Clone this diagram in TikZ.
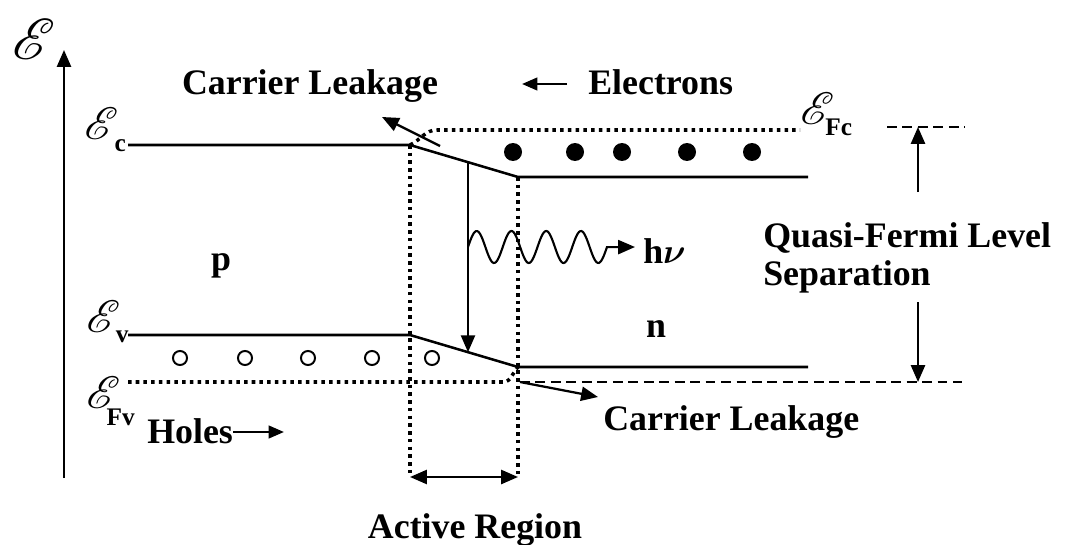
\documentclass[tikz,border=0pt]{standalone}
\usepackage{fontspec}
\setmainfont{Liberation Serif}
\usepackage{amsmath}
\usepackage{mathrsfs}
\usepackage{graphicx}
\usetikzlibrary{arrows.meta,calc}

% script E with a lowered bold subscript (#3 = kern before it)
\newcommand{\elev}[3]{\scalebox{1.3}{$\mathscr{E}$}\kern#3\raisebox{#2}{\fontsize{18}{20}\selectfont #1}}

\begin{document}
\begin{tikzpicture}[
    x=0.025cm,y=-0.025cm,>=Triangle,
    band/.style={line width=1.8pt},
    fermi/.style={line width=2.5pt,dash pattern=on 2.5pt off 3pt},
    guide/.style={line width=1.3pt,dash pattern=on 7pt off 4pt},
    arr/.style={-{Triangle[length=12pt,width=10pt]},line width=1.6pt},
    smallarr/.style={-{Triangle[length=11pt,width=9pt]},line width=1.8pt},
    labelnode/.style={font=\fontsize{25.5}{27}\selectfont\bfseries,inner sep=0pt},
    electron/.style={fill=black},
    hole/.style={draw=black,line width=1.4pt}
  ]
    \useasboundingbox (0,0) rectangle (1073,545);

    % energy axis
    \coordinate (ax0) at (64,478);
    \coordinate (ax1) at (64,50);
    \draw[arr] (ax0) -- (ax1);
    \node[labelnode,anchor=base west] (Eaxis) at (12,60) {\scalebox{1.65}{$\mathscr{E}$}};

    % conduction and valence band edges
    \coordinate (cL) at (128,145);
    \coordinate (cA) at (410,145);
    \coordinate (cB) at (518,177);
    \coordinate (cR) at (808,177);
    \coordinate (vL) at (128,335);
    \coordinate (vA) at (410,335);
    \coordinate (vB) at (518,367);
    \coordinate (vR) at (808,367);
    \draw[band] (cL) -- (cA) -- (cB) -- (cR);
    \draw[band] (vL) -- (vA) -- (vB) -- (vR);
    \node[labelnode,anchor=base west] (Ec) at (84,140) {\elev{c}{-0.33em}{-0.1em}};
    \node[labelnode,anchor=base west] (Ev) at (86,332) {\elev{v}{-0.3em}{-0.12em}};

    % quasi-Fermi levels
    \coordinate (fcL) at (437,130);
    \coordinate (fcR) at (800,130);
    \coordinate (fvL) at (128,382);
    \coordinate (fvA) at (503,382);
    \draw[fermi] (cA) to[out=25,in=180] (fcL) -- (fcR);
    \draw[fermi] (fvL) -- (fvA) to[out=0,in=225] (vB);
    \node[labelnode,anchor=base west] (EFc) at (800,125) {\elev{Fc}{-0.28em}{-0.25em}};
    \node[labelnode,anchor=base west] (EFv) at (86,408) {\elev{Fv}{-0.5em}{-0.38em}};

    % active region
    \coordinate (aL) at (410,477);
    \coordinate (aR) at (518,477);
    \draw[fermi] (cA) -- (aL);
    \draw[fermi] (cB) -- (aR);
    \draw[{Triangle[length=12pt,width=10pt]}-{Triangle[length=12pt,width=10pt]},line width=1.6pt]
      (aL) -- (aR);
    \node[labelnode,anchor=base] (act) at (475,538) {Active Region};

    % electrons and holes
    \foreach \x in {513,575,622,687,752}
      \fill[electron] (\x,152) circle (6.4pt);
    \foreach \x in {180,245,308,372,432}
      \draw[hole] (\x,358) circle (5pt);
    \node[labelnode,anchor=base] (pside) at (221,270) {p};
    \node[labelnode,anchor=base] (nside) at (656,337) {n};

    % recombination and photon
    \coordinate (tTop) at ($(cA)!0.537!(cB)$);
    \coordinate (tBot) at ($(vA)!0.537!(vB)$);
    \draw[arr] (tTop) -- (tBot);
    \coordinate (wTip) at (635,247);
    \draw[arr,line width=1.5pt] plot[domain=0:4,samples=120,smooth]
      ({468+34.75*\x},{247-16*sin(360*\x)}) -- (wTip);
    \node[labelnode,anchor=base west] (hv) at (643,263) {h$\boldsymbol{\nu}$};

    % carrier flow and leakage
    \coordinate (elA) at (567,84);
    \coordinate (elB) at (522,84);
    \draw[smallarr] (elA) -- (elB);
    \node[labelnode,anchor=base west] (elec) at (588,95) {Electrons};
    \node[labelnode,anchor=base west] (holes) at (147,443) {Holes};
    \coordinate (hoB) at (284,432);
    \draw[smallarr] (holes.east |- hoB) -- (hoB);
    \coordinate (lkU0) at (440,146);
    \coordinate (lkU1) at (382,117);
    \draw[arr] (lkU0) -- (lkU1);
    \node[labelnode,anchor=base] (leakU) at (310,95) {Carrier Leakage};
    \coordinate (gvL) at (520,382);
    \coordinate (lkD1) at (598,397);
    \draw[arr] (gvL) -- (lkD1);
    \node[labelnode,anchor=base west] (leakD) at (603,430) {Carrier Leakage};

    % quasi-Fermi level separation
    \coordinate (gvR) at (962,382);
    \coordinate (gcL) at (887,127);
    \coordinate (gcR) at (965,127);
    \draw[guide] (gvL) -- (gvR);
    \draw[guide] (gcL) -- (gcR);
    \node[labelnode,anchor=north west,align=left] (qfls) at (763,222)
      {Quasi-Fermi Level\\Separation};
    \coordinate (qUp) at (918,192);
    \coordinate (qDn) at (918,302);
    \draw[arr] (qUp) -- (qUp |- gcL);
    \draw[arr] (qDn) -- (qDn |- gvL);
\end{tikzpicture}
\end{document}
